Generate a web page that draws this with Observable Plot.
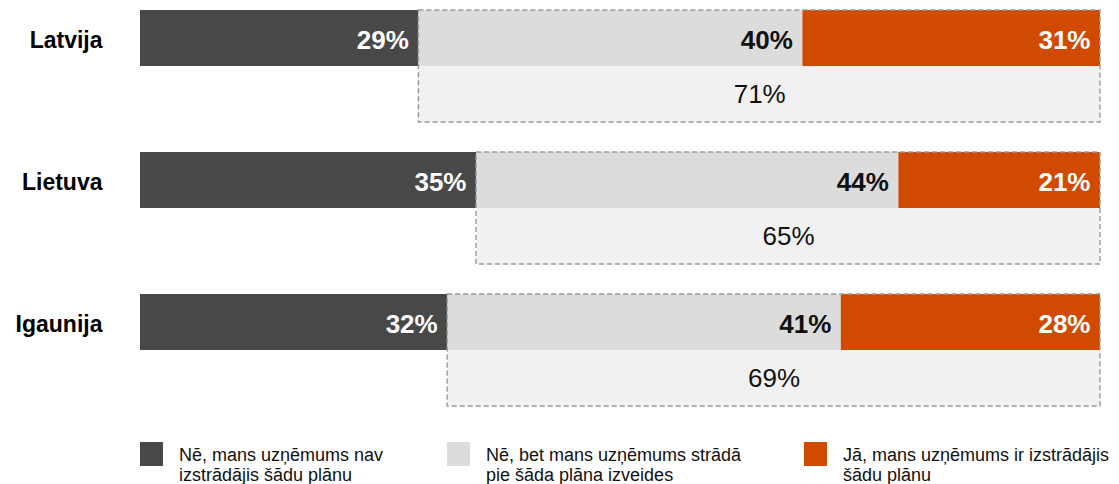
<!DOCTYPE html>
<html>
<head>
<meta charset="utf-8">
<script src="https://cdn.jsdelivr.net/npm/d3@7"></script>
<script src="https://cdn.jsdelivr.net/npm/@observablehq/plot@0.6"></script>
<style>
  body { margin: 0; background: #fff; font-family: "Liberation Sans", Arial, Helvetica, sans-serif; }
  #wrap { position: relative; width: 1119px; height: 484px; overflow: hidden; }
  .leg { position: absolute; top: 442px; display: flex; align-items: flex-start; font-size: 18px; line-height: 20px; color: #111; }
  .sw { width: 23px; height: 24px; flex: none; }
  .lt { margin-left: 16px; margin-top: 3px; white-space: pre; }
</style>
</head>
<body>
<div id="wrap"></div>
<script>
// ---- data ----
const countries = ["Latvija", "Lietuva", "Igaunija"];
const seriesNames = [
  "Nē, mans uzņēmums nav\nizstrādājis šādu plānu",
  "Nē, bet mans uzņēmums strādā\npie šāda plāna izveides",
  "Jā, mans uzņēmums ir izstrādājis\nšādu plānu"
];
const noPlan  = [29, 35, 32];
const working = [40, 44, 41];
const yesPlan = [31, 21, 28];
const totals  = [71, 65, 69];

// ---- styling ----
const colors = ["#484848", "#dcdcdc", "#d04a02"];
const labelColors = ["#ffffff", "#111111", "#ffffff"];
const font = "Liberation Sans, Arial, Helvetica, sans-serif";

const seriesVals = [noPlan, working, yesPlan];
const segs = [];
countries.forEach((c, i) => {
  let acc = 0;
  seriesVals.forEach((vals, j) => {
    const x1 = acc;
    acc += vals[i];
    segs.push({country: c, s: j, value: vals[i], x1, x2: Math.min(100, acc)});
  });
});
const boxes = countries.map((c, i) => ({country: c, x1: noPlan[i], x2: 100, total: totals[i]}));

const chart = Plot.plot({
  width: 1119,
  height: 430,
  marginLeft: 140,
  marginRight: 19,
  marginTop: 9,
  marginBottom: 24,
  style: {fontFamily: font, background: "transparent"},
  x: {domain: [0, 100], axis: null},
  y: {domain: countries, paddingInner: 0.214, paddingOuter: 0, axis: null},
  marks: [
    Plot.barX(boxes, {x1: "x1", x2: "x2", y: "country", insetTop: 56, fill: "#f1f1f1"}),
    Plot.barX(segs, {x1: "x1", x2: "x2", y: "country", insetBottom: 56, fill: d => colors[d.s]}),
    Plot.barX(boxes, {x1: "x1", x2: "x2", y: "country", fill: "none", stroke: "#999999", strokeWidth: 1.4, strokeDasharray: "5,3"}),
    Plot.text(segs, {x: "x2", y: "country", text: d => d.value + "%", textAnchor: "end", dx: -10, dy: -26,
      fill: d => labelColors[d.s], fontSize: 26, fontWeight: "bold"}),
    Plot.text(boxes, {x: d => (d.x1 + d.x2) / 2, y: "country", text: d => d.total + "%", dy: 28,
      fill: "#111", fontSize: 26}),
    Plot.text(countries, {x: () => 0, y: d => d, text: d => d, textAnchor: "end", dx: -38, dy: -26,
      fill: "#000", fontSize: 23, fontWeight: "bold"})
  ]
});
const wrap = document.getElementById("wrap");
wrap.appendChild(chart);

// ---- legend ----
const legendLeft = [140, 447, 804];
seriesNames.forEach((name, j) => {
  const item = document.createElement("div");
  item.className = "leg";
  item.style.left = legendLeft[j] + "px";
  const sw = document.createElement("div");
  sw.className = "sw";
  sw.style.background = colors[j];
  const t = document.createElement("div");
  t.className = "lt";
  t.textContent = name;
  item.appendChild(sw);
  item.appendChild(t);
  wrap.appendChild(item);
});
</script>
</body>
</html>
